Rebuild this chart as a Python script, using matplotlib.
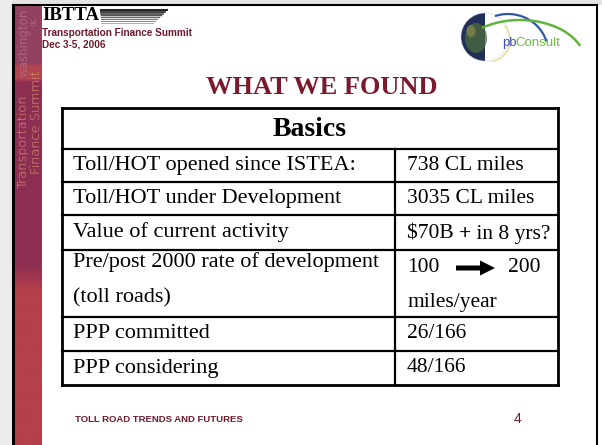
import numpy as np
import matplotlib.pyplot as plt
from matplotlib.patches import Rectangle, Ellipse, Arc, FancyArrow, Wedge

# slide text
title = "WHAT WE FOUND"
table_header = "Basics"
row_labels = ["Toll/HOT opened since ISTEA:",
              "Toll/HOT under Development",
              "Value of current activity",
              "Pre/post 2000 rate of development\n(toll roads)",
              "PPP committed",
              "PPP considering"]
row_values = ["738 CL miles",
              "3035 CL miles",
              ["\\$70B ", "+", " in 8 yrs?"],
              None,
              "26/166",
              "48/166"]
rate_from, rate_to, rate_unit = "100", "200", "miles/year"
footer = "TOLL ROAD TRENDS AND FUTURES"
page_no = "4"

maroon = "#7a1a2c"
serif = "Liberation Serif"
sans = "Liberation Sans"

fig = plt.figure(figsize=(6.02, 4.45), dpi=100)
ax = fig.add_axes([0, 0, 1, 1])
ax.set_xlim(0, 602)
ax.set_ylim(445, 0)
ax.axis('off')

# grey outside the slide frame
ax.add_patch(Rectangle((0, 0), 602, 5, color="#e4e4e4", lw=0))
ax.add_patch(Rectangle((0, 0), 12, 445, color="#ececec", lw=0))

# left sidebar, vertical gradient
stops_y = [0, 58, 62, 74, 78, 262, 288, 445]
stops_c = ["#924160", "#924160", "#b2464f", "#b2464f", "#8c2f52", "#8c2f52", "#b3404b", "#b3404b"]
rgb = np.array([[int(c[i:i + 2], 16) / 255 for i in (1, 3, 5)] for c in stops_c])
ys = np.arange(445)
grad = np.stack([np.interp(ys, stops_y, rgb[:, k]) for k in range(3)], axis=1)[:, None, :]
ax.imshow(grad, extent=(14, 42, 445, 5), aspect='auto', zorder=1)

side_kw = dict(rotation=90, rotation_mode='anchor', ha='left', va='center',
               family="DejaVu Sans", zorder=2)
ax.text(24, 77, "washington", fontsize=8.5, color="#b0647f", **side_kw)
ax.text(34, 26, "dc", fontsize=5.5, color="#b0647f", **side_kw)
ax.text(23, 188, "Transportation", fontsize=9.3, weight='light', color="#dc9a78", **side_kw)
ax.text(35.5, 174, "Finance Summit", fontsize=9.3, weight='light', color="#dc9a78", **side_kw)

# slide frame
ax.plot([13, 13], [5, 445], color='black', lw=2.2, zorder=3)
ax.plot([13, 597], [5, 5], color='black', lw=1.5, zorder=3)
ax.plot([597, 597], [5, 445], color='black', lw=1.5, zorder=3)

# IBTTA logo
ax.text(42, 16, "IBTTA", ha='left', va='center', fontsize=13.5, weight='bold',
        family=serif, color='black')
for i, y in enumerate(np.linspace(10, 22.5, 8)):
    ax.plot([101, 167 - 2 * i], [y, y], color=str(0.12 + 0.07 * i), lw=1.4 - 0.12 * i)
ax.text(42, 33, "Transportation Finance Summit", ha='left', va='center', fontsize=7.2,
        weight='bold', family=sans, color="#6e1a2a")
ax.text(42, 44.5, "Dec 3-5, 2006", ha='left', va='center', fontsize=7.2,
        weight='bold', family=sans, color="#6e1a2a")

# pbConsult logo
ax.add_patch(Wedge((485, 37), 24, 90, 270, color="#1f2f55", lw=0))
ax.add_patch(Ellipse((476, 38), 22, 30, color="#4f6a3e", lw=0, alpha=0.75))
ax.add_patch(Ellipse((471, 31), 9, 12, color="#8a8a4a", lw=0, alpha=0.7))
ax.add_patch(Ellipse((485, 37), 48, 48, fill=False, ec="#c9cfe0", lw=0.6, alpha=0.6))
ax.add_patch(Arc((508, 52), 80, 76, theta1=250, theta2=345, color="#2f57a6", lw=1.6))
ax.add_patch(Arc((520, 62), 130, 84, theta1=222, theta2=345, color="#62b33b", lw=1.8))
ax.add_patch(Arc((488, 40), 44, 44, theta1=-40, theta2=80, color="#e7d98a", lw=1.0))
ax.text(502, 43, "pb", ha='left', va='center', fontsize=9.5, family=sans, color="#3d55a8")
ax.text(515, 43, "Consult", ha='left', va='center', fontsize=9.5, family=sans, color="#6cbf3c")

# title
ax.text(322, 88, title, ha='center', va='center', fontsize=19, weight='bold',
        family=serif, color=maroon)

# table
x0, x1, xm = 62, 558, 395
hlines = [108, 149, 182, 215, 250, 317, 351, 385]
for y in hlines:
    ax.plot([x0, x1], [y, y], color='black', lw=2.0 if y in (108, 385) else 1.6,
            solid_capstyle='projecting')
ax.plot([x0, x0], [hlines[0], hlines[-1]], color='black', lw=2.0)
ax.plot([x1, x1], [hlines[0], hlines[-1]], color='black', lw=2.0)
ax.plot([xm, xm], [hlines[1], hlines[-1]], color='black', lw=1.6)

ax.text((x0 + x1) / 2, 129, table_header, ha='center', va='center', fontsize=20,
        weight='bold', family=serif)

fs = 16
fsv = 15.5
renderer = fig.canvas.get_renderer()
inv = ax.transData.inverted()
for i, (lab, val) in enumerate(zip(row_labels, row_values)):
    top, bot = hlines[i + 1], hlines[i + 2]
    if "\n" in lab:
        l1, l2 = lab.split("\n")
        ax.text(73, top + 12, l1, ha='left', va='center', fontsize=fs, family=serif)
        ax.text(73, top + 48, l2, ha='left', va='center', fontsize=fs, family=serif)
        ax.text(407, top + 17, rate_from, ha='left', va='center', fontsize=fsv, family=serif)
        ax.add_patch(FancyArrow(456, top + 18, 39, 0, width=5, head_width=15,
                                head_length=15, color='black', lw=0,
                                length_includes_head=True))
        ax.text(508, top + 17, rate_to, ha='left', va='center', fontsize=fsv, family=serif)
        ax.text(407, top + 52, rate_unit, ha='left', va='center', fontsize=fsv, family=serif)
    else:
        yc = (top + bot) / 2
        ax.text(73, yc, lab, ha='left', va='center', fontsize=fs, family=serif)
        if isinstance(val, list):
            # mixed weight: the "+" is bold; all parts share one baseline
            x = 407
            for part in val:
                t = ax.text(x, yc + 6.5, part, ha='left', va='baseline', fontsize=fsv,
                            family=serif,
                            weight='bold' if part.strip() == "+" else 'normal')
                bb = t.get_window_extent(renderer)
                x = inv.transform((bb.x1, bb.y0))[0]
        else:
            ax.text(407, yc, val, ha='left', va='center', fontsize=fsv, family=serif)

# footer
ax.text(75, 420, footer, ha='left', va='center', fontsize=6.8, weight='bold',
        family=sans, color="#6e1a2a")
ax.text(517, 419, page_no, ha='center', va='center', fontsize=10, family=sans, color="#6e1a2a")

fig.savefig("out.png", dpi=100)
